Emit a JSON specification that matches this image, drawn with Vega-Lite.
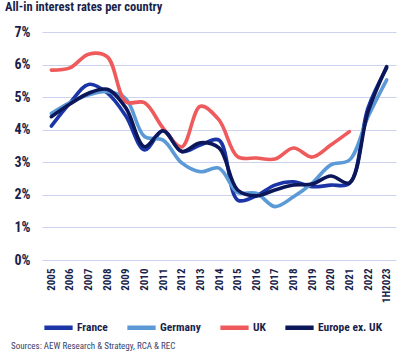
{
  "$schema": "https://vega.github.io/schema/vega-lite/v6.json",
  "background": "white",
  "padding": {"left": 4, "top": 0, "right": 4, "bottom": 2},
  "title": {"text": "Sources: AEW Research & Strategy, RCA & REC", "orient": "bottom", "anchor": "start", "frame": "bounds", "font": "Roboto Condensed, DejaVu Sans Condensed, sans-serif", "fontSize": 9, "fontWeight": "normal", "color": "#3b3f6b", "offset": 5, "dx": 6},
  "config": {
    "view": {"stroke": null},
    "font": "Roboto Condensed, DejaVu Sans Condensed, sans-serif"
  },
  "vconcat": [
    {
      "title": {"text": "All-in interest rates per country", "anchor": "start", "frame": "bounds", "font": "Roboto Condensed, DejaVu Sans Condensed, sans-serif", "fontSize": 12.5, "fontWeight": "bold", "color": "#1b1f4b", "offset": 12, "dx": -9},
      "width": 354,
      "height": 228,
      "data": {"values": [
        {"year": "2005", "series": "France", "value": 4.11},
        {"year": "2006", "series": "France", "value": 4.82},
        {"year": "2007", "series": "France", "value": 5.39},
        {"year": "2008", "series": "France", "value": 5.13},
        {"year": "2009", "series": "France", "value": 4.42},
        {"year": "2010", "series": "France", "value": 3.38},
        {"year": "2011", "series": "France", "value": 3.97},
        {"year": "2012", "series": "France", "value": 3.33},
        {"year": "2013", "series": "France", "value": 3.53},
        {"year": "2014", "series": "France", "value": 3.68},
        {"year": "2015", "series": "France", "value": 1.84},
        {"year": "2016", "series": "France", "value": 1.97},
        {"year": "2017", "series": "France", "value": 2.3},
        {"year": "2018", "series": "France", "value": 2.4},
        {"year": "2019", "series": "France", "value": 2.25},
        {"year": "2020", "series": "France", "value": 2.3},
        {"year": "2021", "series": "France", "value": 2.35},
        {"year": "2022", "series": "France", "value": 4.67},
        {"year": "1H2023", "series": "France", "value": 5.9},
        {"year": "2005", "series": "Germany", "value": 4.5},
        {"year": "2006", "series": "Germany", "value": 4.83},
        {"year": "2007", "series": "Germany", "value": 5.07},
        {"year": "2008", "series": "Germany", "value": 5.17},
        {"year": "2009", "series": "Germany", "value": 4.95},
        {"year": "2010", "series": "Germany", "value": 3.79},
        {"year": "2011", "series": "Germany", "value": 3.68},
        {"year": "2012", "series": "Germany", "value": 2.98},
        {"year": "2013", "series": "Germany", "value": 2.71},
        {"year": "2014", "series": "Germany", "value": 2.82},
        {"year": "2015", "series": "Germany", "value": 2.07},
        {"year": "2016", "series": "Germany", "value": 2.05},
        {"year": "2017", "series": "Germany", "value": 1.64},
        {"year": "2018", "series": "Germany", "value": 1.94},
        {"year": "2019", "series": "Germany", "value": 2.36},
        {"year": "2020", "series": "Germany", "value": 2.92},
        {"year": "2021", "series": "Germany", "value": 3.07},
        {"year": "2022", "series": "Germany", "value": 4.4},
        {"year": "1H2023", "series": "Germany", "value": 5.53},
        {"year": "2005", "series": "UK", "value": 5.83},
        {"year": "2006", "series": "UK", "value": 5.9},
        {"year": "2007", "series": "UK", "value": 6.32},
        {"year": "2008", "series": "UK", "value": 6.24},
        {"year": "2009", "series": "UK", "value": 4.86},
        {"year": "2010", "series": "UK", "value": 4.83},
        {"year": "2011", "series": "UK", "value": 4.05},
        {"year": "2012", "series": "UK", "value": 3.47},
        {"year": "2013", "series": "UK", "value": 4.72},
        {"year": "2014", "series": "UK", "value": 4.3},
        {"year": "2015", "series": "UK", "value": 3.17},
        {"year": "2016", "series": "UK", "value": 3.13},
        {"year": "2017", "series": "UK", "value": 3.1},
        {"year": "2018", "series": "UK", "value": 3.44},
        {"year": "2019", "series": "UK", "value": 3.16},
        {"year": "2020", "series": "UK", "value": 3.53},
        {"year": "2021", "series": "UK", "value": 3.94},
        {"year": "2005", "series": "Europe ex. UK", "value": 4.4},
        {"year": "2006", "series": "Europe ex. UK", "value": 4.79},
        {"year": "2007", "series": "Europe ex. UK", "value": 5.12},
        {"year": "2008", "series": "Europe ex. UK", "value": 5.24},
        {"year": "2009", "series": "Europe ex. UK", "value": 4.67},
        {"year": "2010", "series": "Europe ex. UK", "value": 3.48},
        {"year": "2011", "series": "Europe ex. UK", "value": 3.97},
        {"year": "2012", "series": "Europe ex. UK", "value": 3.33},
        {"year": "2013", "series": "Europe ex. UK", "value": 3.6},
        {"year": "2014", "series": "Europe ex. UK", "value": 3.44},
        {"year": "2015", "series": "Europe ex. UK", "value": 2.15},
        {"year": "2016", "series": "Europe ex. UK", "value": 1.97},
        {"year": "2017", "series": "Europe ex. UK", "value": 2.15},
        {"year": "2018", "series": "Europe ex. UK", "value": 2.3},
        {"year": "2019", "series": "Europe ex. UK", "value": 2.33},
        {"year": "2020", "series": "Europe ex. UK", "value": 2.58},
        {"year": "2021", "series": "Europe ex. UK", "value": 2.37},
        {"year": "2022", "series": "Europe ex. UK", "value": 4.55},
        {"year": "1H2023", "series": "Europe ex. UK", "value": 5.94}
      ]},
      "mark": {"type": "line", "interpolate": "catmull-rom", "strokeWidth": 3.6, "strokeCap": "round", "strokeJoin": "round"},
      "encoding": {
        "x": {"field": "year", "type": "ordinal", "sort": null,
          "scale": {"type": "point", "padding": 0.5},
          "axis": {"title": null, "labelAngle": -90, "labelFontSize": 11, "labelFontWeight": "bold", "labelColor": "#1b1f4b", "ticks": false, "domain": false, "labelPadding": 8, "grid": false}},
        "y": {"field": "value", "type": "quantitative",
          "scale": {"domain": [0, 7], "nice": false},
          "axis": {"title": null, "values": [0, 1, 2, 3, 4, 5, 6, 7], "labelExpr": "datum.value + '%'", "labelFontSize": 14, "labelFontWeight": "bold", "labelColor": "#1b1f4b", "ticks": false, "domain": false, "labelPadding": 12, "gridColor": "#cdd3ee", "gridWidth": 1}},
        "color": {"field": "series", "type": "nominal", "sort": ["France", "Germany", "UK", "Europe ex. UK"],
          "scale": {"domain": ["France", "Germany", "UK", "Europe ex. UK"], "range": ["#1b35a6", "#5b9ad6", "#ef5a5c", "#0c1759"]},
          "legend": {"title": null, "orient": "bottom", "direction": "horizontal", "symbolType": "stroke", "symbolSize": 800, "symbolStrokeWidth": 4.5, "labelFontSize": 11.5, "labelFontWeight": "bold", "labelColor": "#1b1f4b", "columnPadding": 10, "labelOffset": 2, "offset": 8}}
      }
    }
  ]
}
